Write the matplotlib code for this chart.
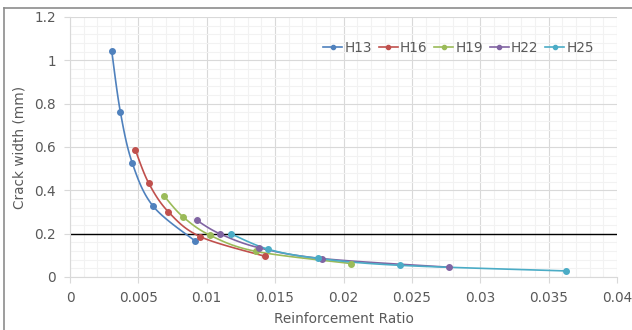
import numpy as np
import matplotlib
matplotlib.use('Agg')
import matplotlib.pyplot as plt
from matplotlib.lines import Line2D
from matplotlib.ticker import MultipleLocator

# Data
series_names = ['H13', 'H16', 'H19', 'H22', 'H25']
h13_x = [0.00305, 0.00368, 0.00456, 0.00609, 0.00917]
h13_y = [1.044, 0.763, 0.525, 0.326, 0.165]
h16_x = [0.00478, 0.00575, 0.00719, 0.00953, 0.01428]
h16_y = [0.586, 0.434, 0.301, 0.186, 0.095]
h19_x = [0.00687, 0.00824, 0.01026, 0.01362, 0.02055]
h19_y = [0.375, 0.279, 0.192, 0.118, 0.062]
h22_x = [0.00926, 0.01094, 0.01382, 0.01845, 0.02774]
h22_y = [0.262, 0.200, 0.135, 0.085, 0.045]
h25_x = [0.01175, 0.0145, 0.01813, 0.0241, 0.03625]
h25_y = [0.200, 0.128, 0.086, 0.054, 0.028]
limit_y = 0.2

xs = [h13_x, h16_x, h19_x, h22_x, h25_x]
ys = [h13_y, h16_y, h19_y, h22_y, h25_y]
colors = ['#4F81BD', '#C0504D', '#9BBB59', '#8064A2', '#4BACC6']


def smooth(x, y, n=30):
    """Excel-style smoothed line (Catmull-Rom through the points)"""
    p = np.column_stack([x, y])
    p = np.vstack([p[0], p, p[-1]])
    out = []
    t = np.linspace(0, 1, n)[:, None]
    for i in range(1, len(p) - 2):
        p0, p1, p2, p3 = p[i - 1], p[i], p[i + 1], p[i + 2]
        seg = 0.5 * ((2 * p1) + (-p0 + p2) * t + (2 * p0 - 5 * p1 + 4 * p2 - p3) * t ** 2
                     + (-p0 + 3 * p1 - 3 * p2 + p3) * t ** 3)
        out.append(seg)
    out = np.vstack(out)
    return out[:, 0], out[:, 1]


fig = plt.figure(figsize=(6.32, 3.30), dpi=100)
ax = fig.add_axes([70 / 632, 1 - 277 / 330, 547 / 632, 260 / 330])

text_color = '#595959'
fs = 9.8

handles = []
for name, x, y, c in zip(series_names, xs, ys, colors):
    sx, sy = smooth(x, y)
    ax.plot(sx, sy, color=c, lw=1.2, zorder=3)
    ax.plot(x, y, 'o', color=c, ms=4, zorder=4)
    handles.append(Line2D([], [], color=c, lw=1.2, marker='o', ms=3, label=name))

ax.axhline(limit_y, color='black', lw=1.0, zorder=2)

ax.set_xlim(0, 0.04)
ax.set_ylim(0, 1.2)
ax.xaxis.set_minor_locator(MultipleLocator(0.001))
ax.yaxis.set_minor_locator(MultipleLocator(0.04))
ax.grid(which='major', color='#D9D9D9', lw=0.8)
ax.grid(which='minor', color='#F2F2F2', lw=0.8)
ax.set_axisbelow(True)

xt = np.arange(0, 0.0401, 0.005)
ax.set_xticks(xt)
ax.set_xticklabels(['0' if v == 0 else f'{v:g}' for v in xt])
yt = np.arange(0, 1.21, 0.2)
ax.set_yticks(yt)
ax.set_yticklabels(['0' if v == 0 else f'{v:g}' for v in yt])

for s in ['top', 'right']:
    ax.spines[s].set_visible(False)
for s in ['left', 'bottom']:
    ax.spines[s].set_color('#D9D9D9')
ax.tick_params(which='major', colors='#D9D9D9', labelcolor=text_color,
               labelsize=fs, length=4, pad=6)
ax.tick_params(which='minor', length=0)

ax.set_xlabel('Reinforcement Ratio', color=text_color, fontsize=fs, labelpad=5)
ax.set_ylabel('Crack width (mm)', color=text_color, fontsize=fs, labelpad=6)

ax.legend(handles=handles, ncol=5, frameon=False, loc='upper right',
          bbox_to_anchor=(0.98, 0.955), fontsize=fs, handlelength=1.4,
          handletextpad=0.15, columnspacing=0.5, labelcolor=text_color)

# outer chart frame
fig.add_artist(Line2D([4 / 632, 4 / 632], [0, 1 - 8 / 330], color='#8C8C8C', lw=1.2))
fig.add_artist(Line2D([4 / 632, 1], [1 - 8 / 330, 1 - 8 / 330], color='#8C8C8C', lw=1.2))

fig.savefig('out.png', dpi=100)
